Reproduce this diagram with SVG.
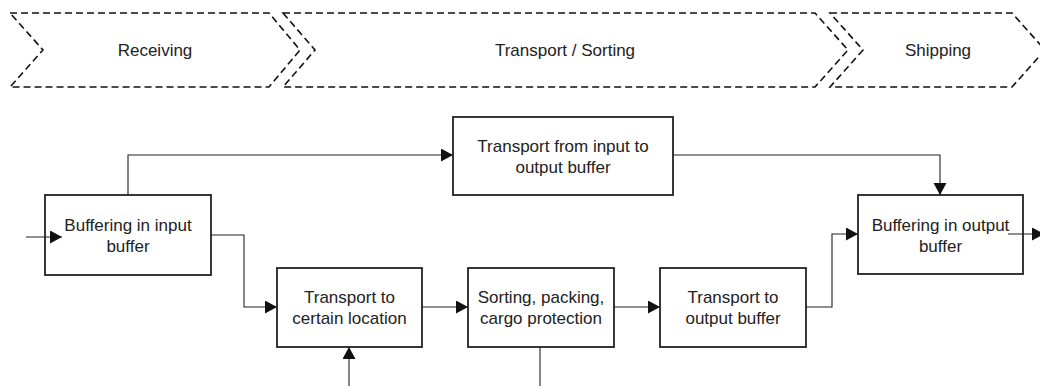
<svg xmlns="http://www.w3.org/2000/svg" width="1040" height="386" viewBox="0 0 1040 386">
<style>
text{font-family:"Liberation Sans",Arial,sans-serif;font-size:17px;fill:#222;text-anchor:middle}
.phase{fill:none;stroke:#111;stroke-width:1.6;stroke-dasharray:7 4}
.box{fill:#fff;stroke:#222;stroke-width:1.8}
.conn{fill:none;stroke:#222;stroke-width:1.1}
</style>
<defs>
<marker id="arr" markerUnits="userSpaceOnUse" markerWidth="13" markerHeight="14" refX="12" refY="6.5" orient="auto">
<path d="M0,0 L12,6.5 L0,13 Z" fill="#111"/>
</marker>
</defs>
<rect width="1040" height="386" fill="#fff"/>
<g id="phase-receiving">
<path class="phase" d="M10,13 L269,13 L300,50 L269,87 L10,87 L43,50 Z"/>
<text x="155" y="56">Receiving</text>
</g>
<g id="phase-transport">
<path class="phase" d="M283,13 L815,13 L848,50 L815,87 L283,87 L315,50 Z"/>
<text x="565" y="56">Transport / Sorting</text>
</g>
<g id="phase-shipping">
<path class="phase" d="M830,13 L1012,13 L1045,50 L1012,87 L830,87 L863,50 Z"/>
<text x="938" y="56">Shipping</text>
</g>
<g id="connectors">
<path class="conn" d="M128,195 L128,155 L453,155" marker-end="url(#arr)"/>
<path class="conn" d="M673,155 L940,155 L940,195" marker-end="url(#arr)"/>
<path class="conn" d="M211,235 L244,235 L244,307 L277,307" marker-end="url(#arr)"/>
<path class="conn" d="M422,307 L468,307" marker-end="url(#arr)"/>
<path class="conn" d="M614,307 L660,307" marker-end="url(#arr)"/>
<path class="conn" d="M806,307 L832,307 L832,234 L858,234" marker-end="url(#arr)"/>
<path class="conn" d="M349,386 L349,347" marker-end="url(#arr)"/>
<path class="conn" d="M540,347 L540,386"/>
</g>
<g id="node-input-buffer">
<rect class="box" x="45" y="195" width="166" height="80"/>
<text x="128" y="231">Buffering in input</text>
<text x="128" y="252">buffer</text>
</g>
<g id="node-transport-direct">
<rect class="box" x="453" y="117" width="220" height="78"/>
<text x="563" y="152">Transport from input to</text>
<text x="563" y="173">output buffer</text>
</g>
<g id="node-transport-location">
<rect class="box" x="277" y="268" width="145" height="79"/>
<text x="349.5" y="303">Transport to</text>
<text x="349.5" y="324">certain location</text>
</g>
<g id="node-sorting">
<rect class="box" x="468" y="268" width="146" height="79"/>
<text x="541" y="303">Sorting, packing,</text>
<text x="541" y="324">cargo protection</text>
</g>
<g id="node-transport-output">
<rect class="box" x="660" y="268" width="146" height="79"/>
<text x="733" y="303">Transport to</text>
<text x="733" y="324">output buffer</text>
</g>
<g id="node-output-buffer">
<rect class="box" x="858" y="195" width="165" height="79"/>
<text x="940.5" y="231">Buffering in output</text>
<text x="940.5" y="252">buffer</text>
</g>
<g id="io-arrows">
<path class="conn" d="M26,237 L62,237" marker-end="url(#arr)"/>
<path class="conn" d="M1008,234 L1044,234" marker-end="url(#arr)"/>
</g>
</svg>
